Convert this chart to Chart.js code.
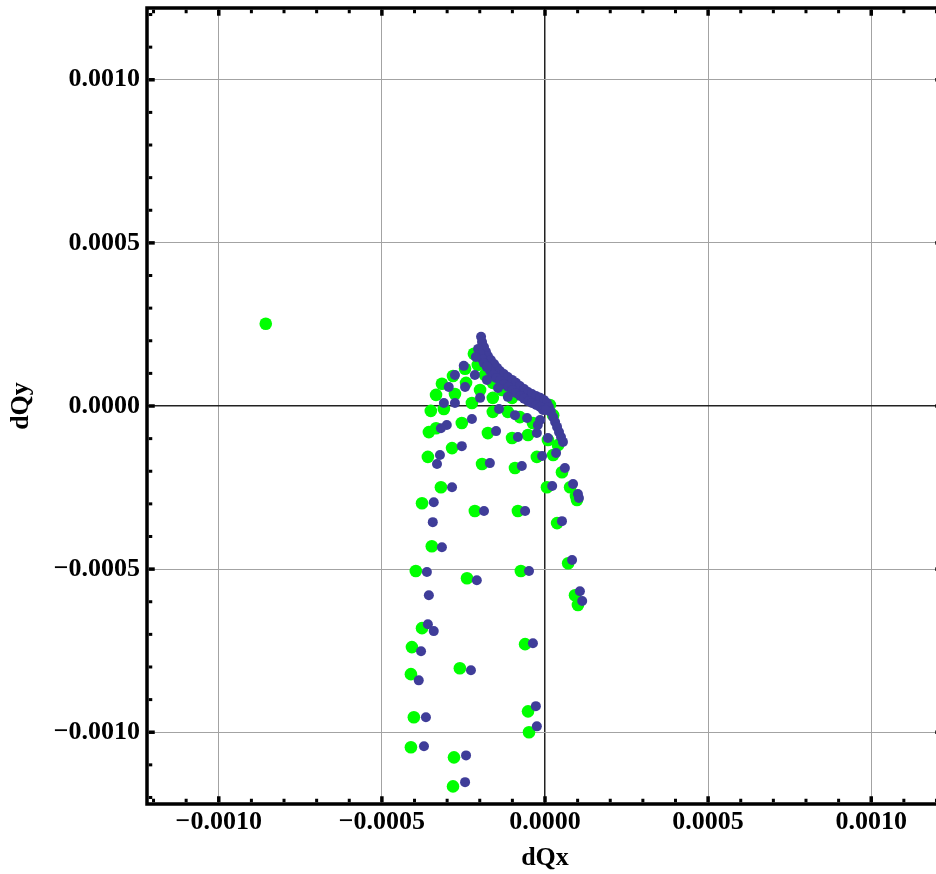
<!DOCTYPE html>
<html><head><meta charset="utf-8">
<script src="https://cdn.jsdelivr.net/npm/chart.js@4/dist/chart.umd.min.js"></script>
<style>html,body{margin:0;padding:0;overflow:hidden;background:#fff}#wrap{width:960px;height:874px}</style>
</head><body><div id="wrap"><canvas id="c" width="960" height="874"></canvas></div>
<script>
// Axis ranges and ticks
const xMin = -0.00122, xMax = 0.00122, yMin = -0.00122, yMax = 0.00122;
const majorTicks = [-0.001, -0.0005, 0, 0.0005, 0.001];
const minorTicks = [-0.0012,-0.0011,-0.001,-0.0009,-0.0008,-0.0007,-0.0006,-0.0005,-0.0004,-0.0003,-0.0002,-0.0001,0,
  0.0001,0.0002,0.0003,0.0004,0.0005,0.0006,0.0007,0.0008,0.0009,0.001,0.0011,0.0012];
const xTitle = 'dQx', yTitle = 'dQy';

// Green series
const greenX = [-0.000856,-0.000218,-0.000245,-0.000282,-0.000316,-0.000242,-0.000276,-0.000334,-0.000350,-0.000310,
  -0.000224,-0.000255,-0.000356,-0.000334,-0.000285,-0.000359,-0.000184,-0.000199,-0.000160,-0.000132,
  -0.000160,-0.000101,-0.000160,-0.000175,-0.000114,-0.000077,-0.000037,-0.000101,-0.000052,0.000009,
  0.000040,-0.000046,0.000015,0.000025,-0.000025,0.000025,-0.000193,-0.000092,0.000052,-0.000319,
  0.000006,0.000077,0.000095,0.000098,-0.000377,-0.000215,-0.000083,0.000037,-0.000347,-0.000396,
  -0.000239,-0.000074,0.000071,0.000092,0.000101,-0.000377,-0.000408,-0.000061,-0.000261,-0.000411,
  -0.000402,-0.000052,-0.000049,-0.000411,-0.000279,-0.000282,
  -0.000206,-0.000175,-0.000147,-0.000117,-0.000086,-0.000055,-0.000025,0.000003];
const greenY = [0.000252,0.000160,0.000114,0.000092,0.000068,0.000071,0.000037,0.000034,-0.000015,-0.000009,
  0.000009,-0.000052,-0.000080,-0.000068,-0.000129,-0.000156,0.000095,0.000049,0.000071,0.000049,
  0.000025,0.000025,-0.000018,-0.000083,-0.000018,-0.000034,-0.000052,-0.000098,-0.000089,-0.000104,
  -0.000120,0.000025,0.000003,-0.000028,-0.000156,-0.000150,-0.000178,-0.000190,-0.000203,-0.000249,
  -0.000249,-0.000249,-0.000276,-0.000288,-0.000298,-0.000322,-0.000322,-0.000359,-0.000430,-0.000506,
  -0.000528,-0.000506,-0.000482,-0.000580,-0.000610,-0.000681,-0.000739,-0.000730,-0.000804,-0.000822,
  -0.000954,-0.000936,-0.001000,-0.001046,-0.001077,-0.001166,
  0.000126,0.000104,0.000080,0.000058,0.000040,0.000028,0.000015,0.000003];

// Blue series
const blueX = [-0.000196,-0.000193,-0.000187,-0.000181,-0.000175,-0.000166,-0.000156,-0.000147,-0.000138,-0.000126,
  -0.000114,-0.000101,-0.000089,-0.000077,-0.000064,-0.000052,-0.000040,-0.000028,-0.000015,-0.000003,
  0.000006,0.000012,0.000018,0.000025,0.000031,0.000037,0.000043,0.000049,0.000055,
  -0.000205,-0.000199,-0.000193,-0.000187,-0.000178,-0.000168,-0.000159,-0.000150,-0.000138,-0.000126,
  -0.000113,-0.000101,-0.000089,-0.000076,-0.000064,-0.000052,-0.000040,-0.000027,-0.000015,-0.000006,0.000003,
  -0.000212,-0.000249,-0.000276,-0.000295,-0.000245,-0.000310,-0.000276,-0.000224,-0.000301,-0.000319,
  -0.000255,-0.000322,-0.000331,-0.000178,-0.000215,-0.000178,-0.000144,-0.000199,-0.000114,-0.000092,
  -0.000055,-0.000022,-0.000083,-0.000025,0.000009,-0.000015,-0.000141,-0.000150,-0.000009,0.000034,
  -0.000071,0.000061,-0.000169,-0.000285,0.000022,0.000086,0.000101,0.000104,-0.000341,-0.000187,
  -0.000061,-0.000344,0.000052,-0.000316,-0.000362,-0.000209,-0.000049,0.000083,-0.000356,0.000107,
  0.000114,-0.000359,-0.000341,-0.000380,-0.000037,-0.000227,-0.000387,-0.000365,-0.000028,-0.000025,
  -0.000371,-0.000242,-0.000245];
const blueY = [0.000212,0.000196,0.000181,0.000166,0.000153,0.000141,0.000129,0.000117,0.000107,0.000098,
  0.000089,0.000080,0.000071,0.000061,0.000052,0.000043,0.000037,0.000031,0.000025,0.000018,
  0.000009,-0.000003,-0.000018,-0.000034,-0.000049,-0.000064,-0.000080,-0.000095,-0.000110,
  0.000175,0.000160,0.000144,0.000131,0.000120,0.000107,0.000095,0.000086,0.000077,0.000067,
  0.000058,0.000049,0.000040,0.000031,0.000022,0.000015,0.000009,0.000003,-0.000003,-0.000012,-0.000012,
  0.000150,0.000123,0.000095,0.000058,0.000058,0.000009,0.000009,-0.000040,-0.000058,-0.000068,
  -0.000123,-0.000150,-0.000178,0.000120,0.000095,0.000080,0.000055,0.000025,0.000028,-0.000028,
  -0.000037,-0.000058,-0.000095,-0.000083,-0.000098,-0.000043,-0.000009,-0.000077,-0.000153,-0.000144,
  -0.000184,-0.000190,-0.000175,-0.000249,-0.000245,-0.000239,-0.000270,-0.000282,-0.000295,-0.000322,
  -0.000322,-0.000356,-0.000353,-0.000433,-0.000509,-0.000534,-0.000506,-0.000472,-0.000580,-0.000568,
  -0.000598,-0.000669,-0.000690,-0.000752,-0.000727,-0.000810,-0.000841,-0.000954,-0.000920,-0.000982,
  -0.001043,-0.001071,-0.001153];

const toPoints = (xs, ys) => xs.map((v, i) => ({x: v, y: ys[i]}));
const isMajor = v => majorTicks.some(m => Math.abs(m - v) < 1e-9);
const isZero = v => Math.abs(v) < 1e-12;
const fmt = v => { if (isZero(v)) return '0.0000'; const s = Math.abs(v).toFixed(4); return v < 0 ? '\u2212' + s : s; };
const FONT = {family: "'Liberation Serif', 'Times New Roman', serif", weight: 'bold', size: 26};

const framePlugin = {
  id: 'frame',
  afterDatasetsDraw(chart) {
    const {ctx, chartArea: a, scales: {x, y}} = chart;
    ctx.save();
    ctx.fillStyle = '#000';
    const fw = 3.5;
    minorTicks.forEach(v => {
      const maj = isMajor(v);
      const len = maj ? 6 : 3.5, w = maj ? 3.5 : 3;
      const px = x.getPixelForValue(v);
      ctx.fillRect(px - w / 2, a.bottom - fw / 2 - len, w, len);
      ctx.fillRect(px - w / 2, a.top + fw / 2, w, len);
      const py = y.getPixelForValue(v);
      ctx.fillRect(a.left + fw / 2, py - w / 2, len, w);
      ctx.fillRect(a.right - fw / 2 - len, py - w / 2, len, w);
    });
    ctx.strokeStyle = '#000';
    ctx.lineWidth = fw;
    ctx.strokeRect(a.left, a.top, a.right - a.left, a.bottom - a.top);
    ctx.restore();
  }
};

const gridOpts = {
  drawTicks: false,
  color: c => (c.tick && isZero(c.tick.value)) ? '#222' : '#a3a3a3',
  lineWidth: c => (c.tick && isZero(c.tick.value)) ? 1.5 : 1
};

new Chart(document.getElementById('c'), {
  type: 'scatter',
  data: {
    datasets: [
      {label: 'blue', order: 1, data: toPoints(blueX, blueY), backgroundColor: '#3f3d99', borderWidth: 0, pointRadius: 5, pointHoverRadius: 5},
      {label: 'green', order: 2, data: toPoints(greenX, greenY), backgroundColor: '#00ff00', borderWidth: 0, pointRadius: 6.3, pointHoverRadius: 6.3}
    ]
  },
  options: {
    responsive: false, animation: false, devicePixelRatio: 1,
    layout: {padding: {top: 8, right: 17, left: 0, bottom: 0}},
    plugins: {legend: {display: false}, tooltip: {enabled: false}},
    scales: {
      x: {
        type: 'linear', min: xMin, max: xMax,
        afterBuildTicks: s => { s.ticks = majorTicks.map(v => ({value: v})); },
        afterFit: s => { s.height = 70; s.paddingLeft = 0; s.paddingRight = 0; },
        grid: gridOpts,
        border: {display: false},
        ticks: {callback: v => fmt(v), color: '#000', font: FONT, padding: 3, maxRotation: 0, autoSkip: false},
        title: {display: true, text: xTitle, color: '#000', font: FONT, padding: {top: 0, bottom: 0}}
      },
      y: {
        type: 'linear', min: yMin, max: yMax,
        afterBuildTicks: s => { s.ticks = majorTicks.map(v => ({value: v})); },
        afterFit: s => { s.width = 147; s.paddingTop = 0; s.paddingBottom = 0; },
        grid: gridOpts,
        border: {display: false},
        ticks: {callback: v => fmt(v), color: '#000', font: FONT, padding: 7, autoSkip: false},
        title: {display: true, text: yTitle, color: '#000', font: FONT, padding: {top: 6, bottom: 0}}
      }
    }
  },
  plugins: [framePlugin]
});
</script>
</body></html>
